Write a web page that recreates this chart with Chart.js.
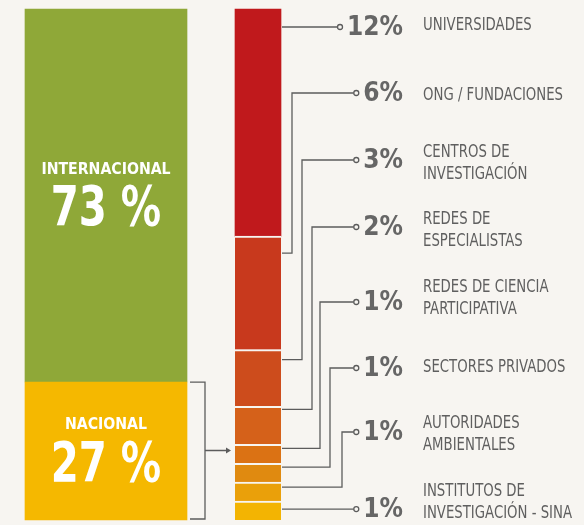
<!DOCTYPE html>
<html>
<head>
<meta charset="utf-8">
<script src="https://cdn.jsdelivr.net/npm/chart.js@4"></script>
<style>
    html, body { margin: 0; padding: 0; background: #f7f5f1; }
    canvas { display: block; }
</style>
</head>
<body>
<canvas id="myChart" width="584" height="525"></canvas>
<script>
// Origen de las alianzas
let origenLabels = ['INTERNACIONAL', 'NACIONAL'];
let origenValues = [73, 27];
let origenColors = ['#8fa838', '#f5b800'];

// Desglose del 27 %, de arriba hacia abajo
let tipoLabels = [
    ['UNIVERSIDADES'],
    ['ONG / FUNDACIONES'],
    ['CENTROS DE', 'INVESTIGACIÓN'],
    ['REDES DE', 'ESPECIALISTAS'],
    ['REDES DE CIENCIA', 'PARTICIPATIVA'],
    ['SECTORES PRIVADOS'],
    ['AUTORIDADES', 'AMBIENTALES'],
    ['INSTITUTOS DE', 'INVESTIGACIÓN - SINA']
];
let tipoValues = [12, 6, 3, 2, 1, 1, 1, 1];
let tipoColors = ['#c0191c', '#c8391d', '#cd4c1c', '#d5611a', '#db7214', '#e08a10', '#eaa00a', '#f3b402'];

// posiciones de las etiquetas (px)
let filaY = [28, 93, 160, 227, 302, 368, 432, 508];
let textoY = [25, 95, 163, 230, 298, 367, 434, 502];
let codoX = [null, 292, 302, 312, 320, 330, 342, null];
let anclaY = [18, 17, 10, 3, 4, 4, 5, 8];

const bg = '#f7f5f1';
const gris = '#5c5c5c';
const fuente = '"DejaVu Sans Condensed", "Liberation Sans Narrow", sans-serif';

let datasets = [];
for (let i = origenValues.length - 1; i >= 0; i--) {
    datasets.push({
        label: origenLabels[i],
        data: [origenValues[i], null],
        backgroundColor: origenColors[i],
        yAxisID: 'y',
        stack: 'origen',
        barThickness: 162,
        borderWidth: 0,
        clip: false
    });
}
for (let i = tipoValues.length - 1; i >= 0; i--) {
    datasets.push({
        label: tipoLabels[i].join(' '),
        data: [null, tipoValues[i]],
        backgroundColor: tipoColors[i],
        yAxisID: 'y2',
        stack: 'tipo',
        barThickness: 46,
        borderColor: bg,
        borderWidth: { top: i === 0 ? 0 : 2, right: 0, bottom: 0, left: 0 },
        clip: false
    });
}

function texto(ctx, t, x, y, font, color, align, sx) {
    ctx.save();
    ctx.font = font;
    ctx.fillStyle = color;
    ctx.textAlign = align;
    ctx.textBaseline = 'middle';
    ctx.translate(x, y);
    ctx.scale(sx, 1);
    ctx.fillText(t, 0, 0);
    ctx.restore();
}

function anchoTexto(ctx, t, font, sx) {
    ctx.save();
    ctx.font = font;
    let w = ctx.measureText(t).width * sx;
    ctx.restore();
    return w;
}

const etiquetas = {
    id: 'etiquetas',
    afterDatasetsDraw(chart) {
        let ctx = chart.ctx;

        // textos dentro de la barra grande
        for (let i = 0; i < origenValues.length; i++) {
            let el = chart.getDatasetMeta(origenValues.length - 1 - i).data[0];
            let mid = (el.y + el.base) / 2;
            texto(ctx, origenLabels[i], el.x, mid - 26, 'bold 16px ' + fuente, '#ffffff', 'center', 0.98);
            texto(ctx, origenValues[i] + ' %', el.x, mid + 15, 'bold 56px ' + fuente, '#ffffff', 'center', 0.8);
        }

        // corchete del segmento nacional
        let nac = chart.getDatasetMeta(0).data[0];
        let der = chart.getDatasetMeta(origenValues.length).data[1];
        let r = nac.x + nac.width / 2;
        let bx = r + 18;
        let top = nac.y;
        let bot = nac.base - 1;
        let mid = (top + bot) / 2;
        let barLeft = der.x - der.width / 2;
        ctx.save();
        ctx.strokeStyle = gris;
        ctx.lineWidth = 1.3;
        ctx.beginPath();
        ctx.moveTo(r + 3, top);
        ctx.lineTo(bx, top);
        ctx.lineTo(bx, bot);
        ctx.lineTo(r + 3, bot);
        ctx.moveTo(bx, mid);
        ctx.lineTo(barLeft - 8, mid);
        ctx.stroke();
        ctx.fillStyle = gris;
        ctx.beginPath();
        ctx.moveTo(barLeft - 4, mid);
        ctx.lineTo(barLeft - 9, mid - 3);
        ctx.lineTo(barLeft - 9, mid + 3);
        ctx.closePath();
        ctx.fill();
        ctx.restore();

        // conectores y etiquetas del desglose
        let numFont = 'bold 26px ' + fuente;
        let labFont = '18px ' + fuente;
        let numRight = 403;
        let labX = 423;
        for (let i = 0; i < tipoValues.length; i++) {
            let el = chart.getDatasetMeta(origenValues.length + tipoValues.length - 1 - i).data[1];
            let bRight = el.x + el.width / 2;
            let ay = el.y + anclaY[i];
            let ly = codoX[i] !== null ? filaY[i] : ay;
            let numTxt = tipoValues[i] + '%';
            let nw = anchoTexto(ctx, numTxt, numFont, 1.0);
            let cx = numRight - nw - 7;

            ctx.save();
            ctx.strokeStyle = gris;
            ctx.lineWidth = 1.3;
            ctx.beginPath();
            ctx.moveTo(bRight + 1, ay);
            if (codoX[i] !== null) {
                ctx.lineTo(codoX[i], ay);
                ctx.lineTo(codoX[i], ly);
            }
            ctx.lineTo(cx - 2.5, ly);
            ctx.stroke();
            ctx.beginPath();
            ctx.arc(cx, ly, 2.5, 0, Math.PI * 2);
            ctx.fillStyle = bg;
            ctx.fill();
            ctx.stroke();
            ctx.restore();

            texto(ctx, numTxt, numRight, ly + 1, numFont, '#666666', 'right', 1.0);

            let lines = tipoLabels[i];
            if (lines.length === 1) {
                texto(ctx, lines[0], labX, textoY[i], labFont, '#5f5f5f', 'left', 0.82);
            } else {
                texto(ctx, lines[0], labX, textoY[i] - 11, labFont, '#5f5f5f', 'left', 0.82);
                texto(ctx, lines[1], labX, textoY[i] + 11, labFont, '#5f5f5f', 'left', 0.82);
            }
        }
    }
};

let canvas = document.getElementById('myChart');
let ctx = canvas.getContext('2d');
new Chart(ctx, {
    type: 'bar',
    data: {
        labels: ['Origen', 'Tipo'],
        datasets: datasets
    },
    options: {
        responsive: false,
        animation: false,
        grouped: false,
        layout: { padding: { left: 30, right: 250, top: 9, bottom: 5 } },
        plugins: {
            legend: { display: false },
            tooltip: { enabled: false }
        },
        scales: {
            x: { display: false, offset: true },
            y: { display: false, stacked: true, min: 0, max: 100 },
            y2: { display: false, stacked: true, min: 0, max: 27 }
        }
    },
    plugins: [etiquetas]
});
</script>
</body>
</html>
